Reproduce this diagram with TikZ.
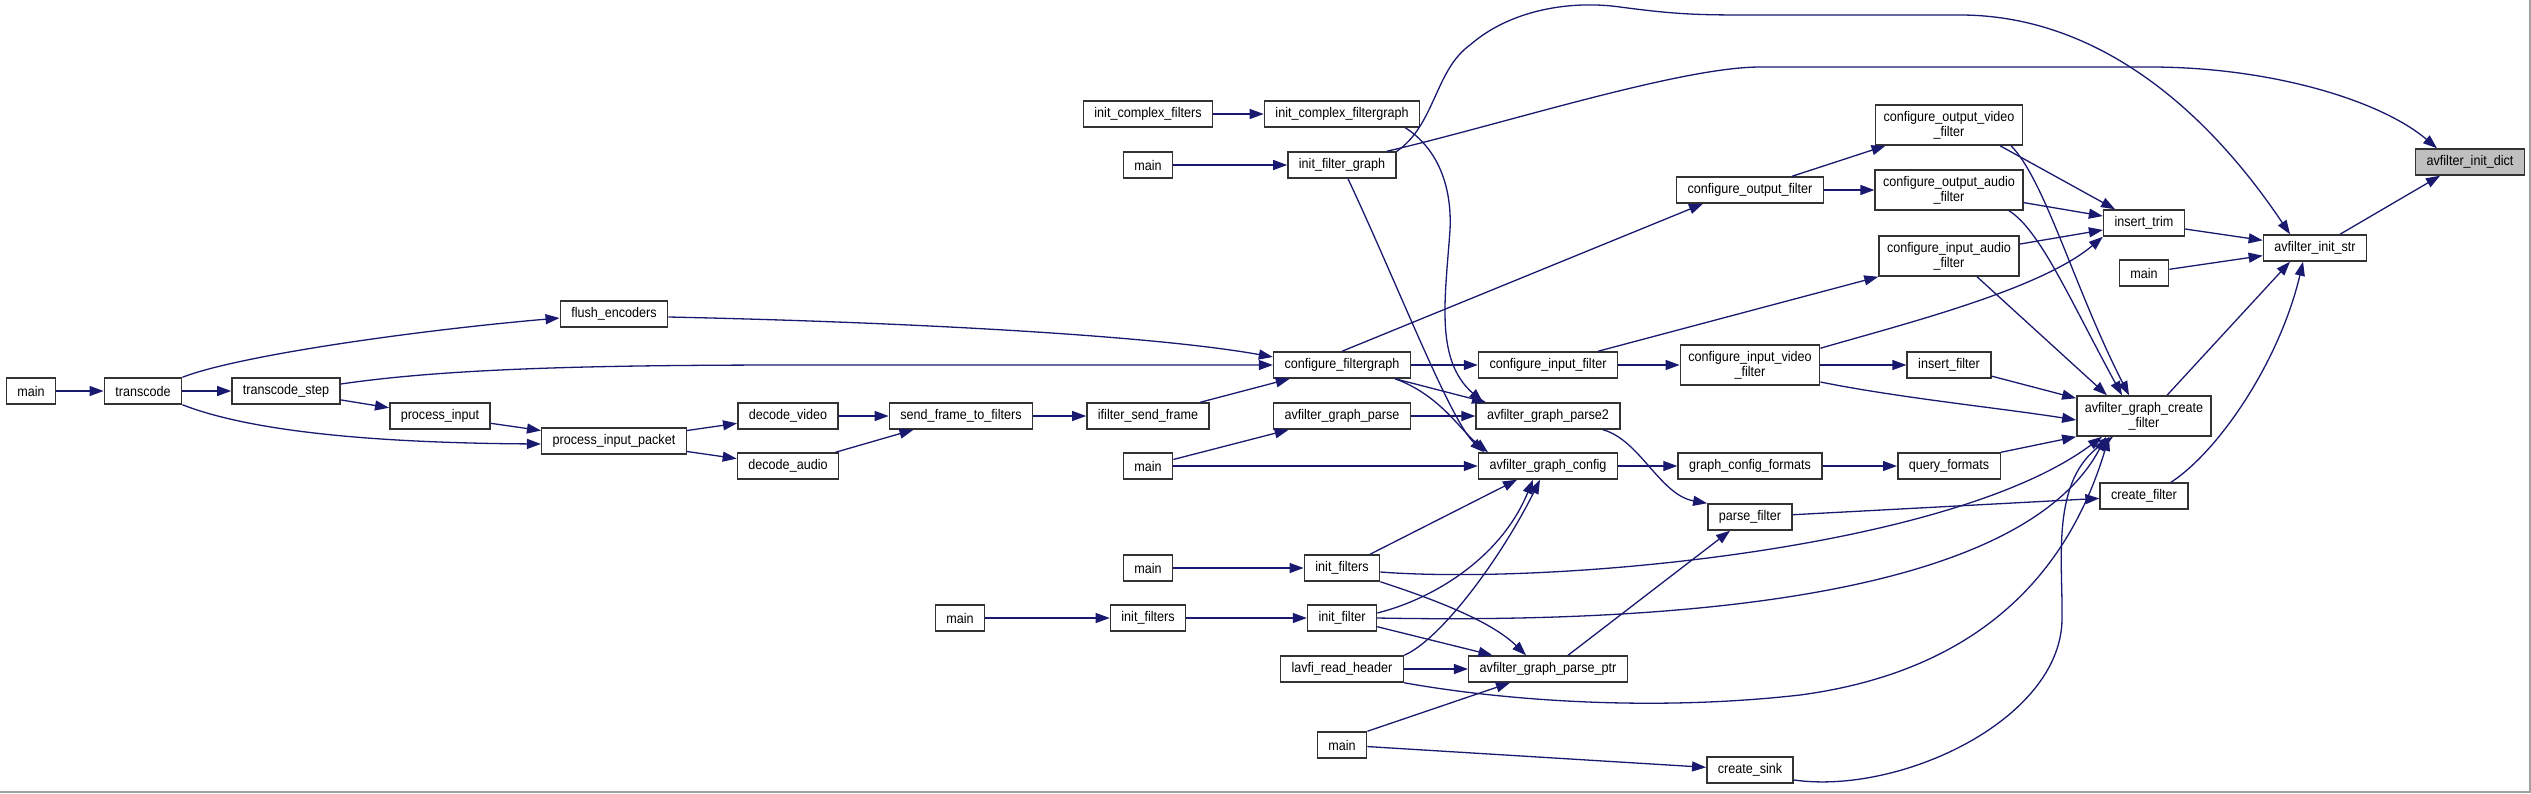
\documentclass[tikz,border=0pt]{standalone}
\usepackage{fontspec}
\setmainfont{Liberation Sans}[FakeStretch=0.9]
\usepackage{xcolor}
\usepackage{tikz}
\usetikzlibrary{arrows.meta}
\definecolor{DoxyNavy}{HTML}{191970}
\definecolor{DoxyEdge}{HTML}{333333}
\definecolor{DoxyGray}{HTML}{BFBFBF}
\definecolor{DoxyFrame}{HTML}{A0A0A0}

\begin{document}
\begin{tikzpicture}[
  x=1pt, y=-1pt,
  every node/.style={font=\fontsize{14}{15}\selectfont},
  fn/.style={draw=DoxyEdge, fill=#1, line width=1.5pt, minimum height=26pt, inner xsep=11pt, inner ysep=0pt, align=center},
  fn/.default=white,
  fn2/.style={fn, minimum height=40pt, inner xsep=8pt},
  call/.style={-{Triangle[length=14pt, width=10pt]}, line width=1.3pt, color=DoxyNavy}
]
\fill[white] (0,0) rectangle (2531,793);
\useasboundingbox (0,0) rectangle (2531,793);
\draw[DoxyFrame, line width=1.5pt] (0,792) -- (2530,792) -- (2530,0);

% callers on the left
\node[fn] (main1) at (31,391) {main};
\node[fn] (transcode) at (143,391) {transcode};
\node[fn] (tstep) at (286,391) {transcode\_step};
\node[fn] (procin) at (440,416) {process\_input};
\node[fn] (flushenc) at (614,314) {flush\_encoders};
\node[fn] (procpkt) at (614,441) {process\_input\_packet};
\node[fn] (decvid) at (788,416) {decode\_video};
\node[fn] (decaud) at (788,466) {decode\_audio};
\node[fn] (sendframe) at (961,416) {send\_frame\_to\_filters};
\node[fn] (ifsend) at (1148,416) {ifilter\_send\_frame};

% middle columns
\node[fn] (initcplx) at (1148,114) {init\_complex\_filters};
\node[fn] (initcplxfg) at (1342,114) {init\_complex\_filtergraph};
\node[fn] (main2) at (1148,165) {main};
\node[fn] (initfg) at (1342,165) {init\_filter\_graph};
\node[fn] (cfgfg) at (1342,365) {configure\_filtergraph};
\node[fn] (gparse) at (1342,416) {avfilter\_graph\_parse};
\node[fn] (main3) at (1148,466) {main};
\node[fn] (main5) at (1148,568) {main};
\node[fn] (initfilters1) at (1342,568) {init\_filters};
\node[fn] (main6) at (960,618) {main};
\node[fn] (initfilters2) at (1148,618) {init\_filters};
\node[fn] (initfilter) at (1342,618) {init\_filter};
\node[fn] (lavfi) at (1342,669) {lavfi\_read\_header};
\node[fn] (main7) at (1342,745) {main};

\node[fn] (cfgin) at (1548,365) {configure\_input\_filter};
\node[fn] (parse2) at (1548,416) {avfilter\_graph\_parse2};
\node[fn] (gconfig) at (1548,466) {avfilter\_graph\_config};
\node[fn] (parseptr) at (1548,669) {avfilter\_graph\_parse\_ptr};

\node[fn] (cfgout) at (1750,190) {configure\_output\_filter};
\node[fn2] (civf) at (1750,365) {configure\_input\_video\\\_filter};
\node[fn] (gcfmt) at (1750,466) {graph\_config\_formats};
\node[fn] (parsef) at (1750,517) {parse\_filter};
\node[fn] (createsink) at (1750,770) {create\_sink};

\node[fn2] (covf) at (1949,125) {configure\_output\_video\\\_filter};
\node[fn2] (coaf) at (1949,190) {configure\_output\_audio\\\_filter};
\node[fn2] (ciaf) at (1949,256) {configure\_input\_audio\\\_filter};
\node[fn] (insfilt) at (1949,365) {insert\_filter};
\node[fn] (qfmt) at (1949,466) {query\_formats};

% right end
\node[fn] (inserttrim) at (2144,223) {insert\_trim};
\node[fn] (main4) at (2144,273) {main};
\node[fn2] (gcreate) at (2144,416) {avfilter\_graph\_create\\\_filter};
\node[fn] (createf) at (2144,496) {create\_filter};
\node[fn] (initstr) at (2315,248) {avfilter\_init\_str};
\node[fn=DoxyGray] (initdict) at (2470,162) {avfilter\_init\_dict};

% calls
\draw[call] (main1) -- (transcode);
\draw[call] (transcode) -- (tstep);
\draw[call] (transcode.north east) .. controls (240,355) and (420,330) .. ([yshift=-4pt]flushenc.west);
\draw[call] (transcode.south east) .. controls (260,435) and (400,443) .. ([yshift=-3pt]procpkt.west);
\draw[call] (tstep) -- (procin);
\draw[call] ([yshift=7pt]tstep.east) .. controls (450,368) and (600,365) .. (800,365) -- (cfgfg.west);
\draw[call] ([yshift=-3pt]flushenc.east) .. controls (900,322) and (1150,335) .. ([yshift=8pt]cfgfg.west);
\draw[call] (procin) -- (procpkt);
\draw[call] (procpkt) -- (decvid);
\draw[call] (procpkt) -- (decaud);
\draw[call] (decvid) -- (sendframe);
\draw[call] (decaud) -- (sendframe);
\draw[call] (sendframe) -- (ifsend);
\draw[call] (ifsend) -- (cfgfg);

\draw[call] (initcplx) -- (initcplxfg);
\draw[call] (main2) -- (initfg);
\draw[call] ([xshift=-15pt]initcplxfg.south east) .. controls (1440,150) and (1452,190) .. (1450,230)
  .. controls (1445,300) and (1435,360) .. ([xshift=-65pt]parse2.north);
\draw[call] ([xshift=6pt]initfg.south) .. controls (1400,290) and (1450,420) .. ([xshift=-64pt]gconfig.north);
\draw[call] (initfg.north east) .. controls (1435,125) and (1435,70) .. (1470,45)
  .. controls (1510,10) and (1570,0) .. (1620,7) .. controls (1680,15) and (1700,15) .. (1760,15)
  -- (1960,15) .. controls (2090,15) and (2200,100) .. ([xshift=-25pt]initstr.north);
\draw[call] ([xshift=-10pt]initfg.north east) .. controls (1500,125) and (1680,67) .. (1760,67)
  -- (2150,67) .. controls (2270,67) and (2380,100) .. ([xshift=-33pt]initdict.north);

\draw[call] (cfgfg.north) -- ([xshift=-47pt]cfgout.south);
\draw[call] (cfgfg) -- (cfgin);
\draw[call] ([xshift=53pt]cfgfg.south) -- ([xshift=-62pt]parse2.north);
\draw[call] ([xshift=53pt]cfgfg.south) .. controls (1440,395) and (1460,430) .. ([xshift=-60pt]gconfig.north);
\draw[call] (gparse) -- (parse2);
\draw[call] (main3) -- (gparse);
\draw[call] (main3) -- (gconfig);

\draw[call] (cfgin) -- (civf);
\draw[call] ([xshift=50pt]cfgin.north) -- (ciaf.south west);
\draw[call] (civf) -- (insfilt);
\draw[call] ([yshift=-4pt]civf.north east) .. controls (1900,325) and (2040,290) .. (inserttrim.south west);
\draw[call] ([yshift=-17pt]civf.east) .. controls (1900,398) and (2000,408) .. ([yshift=-4pt]gcreate.west);
\draw[call] (insfilt) -- (gcreate);

\draw[call] (cfgout) -- (covf);
\draw[call] (cfgout) -- (coaf);
\draw[call] ([xshift=51pt]covf.south) -- ([xshift=-29pt]inserttrim.north);
\draw[call] ([xshift=62pt]covf.south) .. controls (2045,180) and (2075,290) .. ([xshift=-15pt]gcreate.north);
\draw[call] (coaf) -- (inserttrim);
\draw[call] ([xshift=60pt]coaf.south) .. controls (2040,230) and (2070,300) .. ([xshift=-22pt]gcreate.north);
\draw[call] (ciaf) -- (inserttrim);
\draw[call] ([xshift=28pt]ciaf.south) -- ([xshift=-37pt]gcreate.north);

\draw[call] (inserttrim) -- (initstr);
\draw[call] (main4) -- (initstr);
\draw[call] ([xshift=25pt]initstr.north) -- ([xshift=-30pt]initdict.south);
\draw[call] ([xshift=23pt]gcreate.north) -- ([xshift=-25pt]initstr.south);
\draw[call] ([xshift=27pt]createf.north) .. controls (2220,450) and (2280,360) .. ([xshift=-12pt]initstr.south);

\draw[call] ([xshift=55pt]parse2.south) .. controls (1640,440) and (1660,495) .. (parsef.north west);
\draw[call] ([xshift=20pt]parseptr.north) -- ([xshift=-20pt]parsef.south);
\draw[call] (parsef) -- (createf);
\draw[call] (gconfig) -- (gcfmt);
\draw[call] (gcfmt) -- (qfmt);
\draw[call] (qfmt.north east) -- (gcreate.south west);

\draw[call] (main5) -- (initfilters1);
\draw[call] (main6) -- (initfilters2);
\draw[call] (initfilters2) -- (initfilter);
\draw[call] ([xshift=28pt]initfilters1.north) -- ([xshift=-31pt]gconfig.south);
\draw[call] (initfilters1.south east) .. controls (1430,598) and (1490,620) .. ([xshift=-22pt]parseptr.north);
\draw[call] ([yshift=-4pt]initfilters1.east) .. controls (1550,585) and (1950,550) .. ([xshift=-42pt]gcreate.south);
\draw[call] ([yshift=5pt]initfilter.east) .. controls (1430,600) and (1500,560) .. ([xshift=-15pt]gconfig.south);
\draw[call] (initfilter) -- (parseptr);
\draw[call] (initfilter.east) .. controls (1750,625) and (2030,580) .. ([xshift=-38pt]gcreate.south);
\draw[call] (lavfi.north east) .. controls (1440,640) and (1500,560) .. ([xshift=-8pt]gconfig.south);
\draw[call] (lavfi) -- (parseptr);
\draw[call] (lavfi.south east) .. controls (1500,700) and (1650,712) .. (1800,695)
  .. controls (1950,675) and (2060,600) .. ([xshift=-35pt]gcreate.south);
\draw[call] (main7.north east) -- ([xshift=-38pt]parseptr.south);
\draw[call] (main7) -- (createsink);
\draw[call] ([yshift=-10pt]createsink.east) .. controls (1900,795) and (2060,720) .. (2062,620)
  .. controls (2063,560) and (2050,480) .. ([xshift=-31pt]gcreate.south);
\end{tikzpicture}
\end{document}
